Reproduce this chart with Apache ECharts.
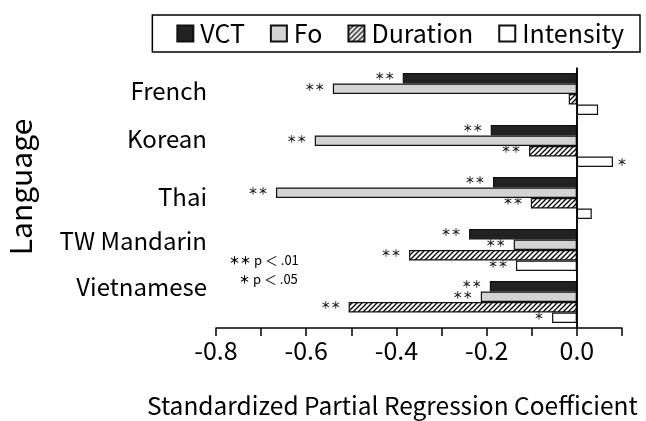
<!DOCTYPE html>
<html>
<head>
<meta charset="utf-8">
<script src="https://cdn.jsdelivr.net/npm/echarts@6/dist/echarts.min.js"></script>
<style>html,body{margin:0;padding:0;background:#fff}#c{width:646px;height:421px}</style>
</head>
<body>
<div id="c"></div>
<script>
// ---- data ----
const languages = ['French', 'Korean', 'Thai', 'TW Mandarin', 'Vietnamese'];
const seriesNames = ['VCT', 'Fo', 'Duration', 'Intensity'];
const vct       = [-0.386, -0.191, -0.186, -0.239, -0.193];
const fo        = [-0.541, -0.581, -0.667, -0.140, -0.213];
const duration  = [-0.018, -0.106, -0.102, -0.372, -0.506];
const intensity = [ 0.047,  0.080,  0.033, -0.135, -0.055];
const sigVct       = ['**', '**', '**', '**', '**'];
const sigFo        = ['**', '**', '**', '**', '**'];
const sigDuration  = ['',   '**', '**', '**', '**'];
const sigIntensity = ['',   '*',  '',   '**', '*'];
const xTickValues = [-0.8, -0.6, -0.4, -0.2, 0.0];

// ---- styling helpers ----
const FONT = '"Noto Sans CJK JP", "Noto Sans", sans-serif';
const labelShift = [3, 7, 1, 9, 15]; // vertical nudge of category labels (px, upward)

function hatch() {
  const c = document.createElement('canvas');
  c.width = 5; c.height = 5;
  const g = c.getContext('2d');
  g.fillStyle = '#fff'; g.fillRect(0, 0, 5, 5);
  g.strokeStyle = '#000'; g.lineWidth = 1.3;
  g.beginPath();
  g.moveTo(-1, 6); g.lineTo(6, -1);
  g.moveTo(-1, 1); g.lineTo(1, -1);
  g.moveTo(4, 6); g.lineTo(6, 4);
  g.stroke();
  return { image: c, repeat: 'repeat' };
}

function makeData(vals, sig) {
  return vals.map((v, i) => ({
    value: v,
    label: {
      show: !!sig[i],
      formatter: sig[i].replace(/\*/g, '＊'),
      position: v < 0 ? 'left' : 'right',
      distance: v < 0 ? 8 : 4,
      offset: [0, v < 0 ? -2 : 0],
      fontSize: 10,
      fontWeight: 'bold',
      fontFamily: FONT,
      color: '#222'
    }
  }));
}

const fills = ['#222222', '#d3d3d3', hatch(), '#ffffff'];
const values = [vct, fo, duration, intensity];
const sigs = [sigVct, sigFo, sigDuration, sigIntensity];

const series = seriesNames.map((name, k) => ({
  name: name,
  type: 'bar',
  barGap: '0%',
  barCategoryGap: '19%',
  itemStyle: { color: fills[k], borderColor: '#111', borderWidth: 1.2 },
  emphasis: { disabled: true },
  data: makeData(values[k], sigs[k])
}));
series[0].markLine = {
  silent: true, symbol: 'none',
  lineStyle: { color: '#000', width: 1.5, type: 'solid' },
  label: { show: false },
  data: [{ xAxis: 0 }]
};

const rich = {};
languages.forEach((l, i) => {
  rich['l' + i] = { fontSize: 24, fontFamily: FONT, color: '#000', padding: [0, 0, labelShift[i] * 2, 0] };
});

const chart = echarts.init(document.getElementById('c'), null, { renderer: 'canvas' });
chart.setOption({
  animation: false,
  backgroundColor: '#fff',
  textStyle: { fontFamily: FONT },
  grid: { left: 216, right: 24, top: 68, bottom: 93, containLabel: false },
  legend: {
    data: seriesNames,
    right: 6, top: 15,
    borderColor: '#000', borderWidth: 1.5,
    padding: [6, 16, 6, 24],
    itemWidth: 16, itemHeight: 16, itemGap: 25,
    icon: 'rect',
    textStyle: { fontSize: 25, fontFamily: FONT, color: '#000', padding: [0, 0, 0, 2] }
  },
  xAxis: {
    type: 'value',
    min: -0.8, max: 0.1, interval: 0.1,
    axisLine: { show: true, onZero: false, lineStyle: { color: '#000', width: 1.5 } },
    axisTick: { show: true, inside: false, length: 8, lineStyle: { color: '#000', width: 1.5 } },
    splitLine: { show: false },
    axisLabel: {
      fontSize: 25, fontFamily: FONT, color: '#000', margin: 10,
      formatter: function (v) {
        const r = Math.round(v * 10) / 10;
        return xTickValues.some(t => Math.abs(t - r) < 1e-6) ? r.toFixed(1) : '';
      }
    }
  },
  yAxis: {
    type: 'category',
    inverse: true,
    data: languages,
    axisLine: { show: true, lineStyle: { color: '#000', width: 1.5 } },
    axisTick: { show: false },
    axisLabel: {
      margin: 9,
      formatter: function (v, i) { return '{l' + i + '|' + v + '}'; },
      rich: rich
    }
  },
  graphic: [
    {
      type: 'text', left: 147, top: 393,
      style: { text: 'Standardized Partial Regression Coefficient', fontSize: 24.5, fontFamily: FONT, fill: '#000' }
    },
    {
      type: 'text', x: 21, y: 187, rotation: Math.PI / 2,
      style: { text: 'Language', fontSize: 30, fontFamily: FONT, fill: '#000', align: 'center', verticalAlign: 'middle' }
    },
    {
      type: 'text', left: 229, top: 254,
      style: {
        text: '{s|＊＊} p ＜ .01',
        fontSize: 13, fontFamily: FONT, fill: '#000',
        rich: { s: { fontSize: 11, fontWeight: 'bold', fontFamily: FONT } }
      }
    },
    {
      type: 'text', left: 239, top: 273,
      style: {
        text: '{s|＊} p ＜ .05',
        fontSize: 13, fontFamily: FONT, fill: '#000',
        rich: { s: { fontSize: 11, fontWeight: 'bold', fontFamily: FONT } }
      }
    }
  ],
  series: series
});
</script>
</body>
</html>
